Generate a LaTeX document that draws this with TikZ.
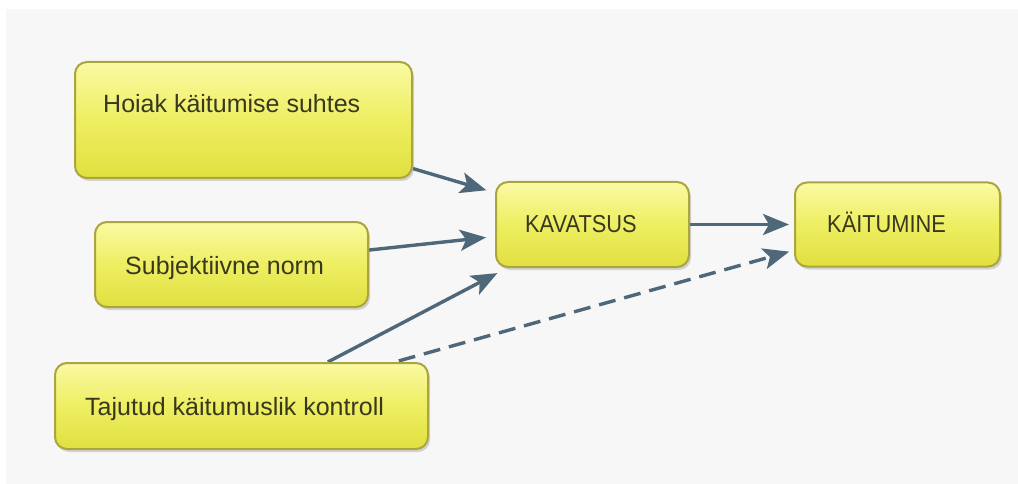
\documentclass[tikz,border=0pt]{standalone}
\usepackage{fontspec}
\setmainfont{Liberation Sans}
\newfontfamily\capsfont[FakeStretch=0.89]{Liberation Sans}
\usetikzlibrary{arrows.meta,shadows,backgrounds}
\definecolor{bgc}{HTML}{F7F7F7}
\definecolor{boxtop}{HTML}{FAFAA4}
\definecolor{boxmid}{HTML}{EEEE62}
\definecolor{boxbot}{HTML}{E0E040}
\definecolor{boxline}{HTML}{ABA540}
\definecolor{arrc}{HTML}{4E6779}
\definecolor{txtc}{HTML}{38381E}
\tikzset{
  box/.style={draw=boxline, line width=2pt, rounded corners=12pt,
    top color=boxtop, bottom color=boxbot, middle color=boxmid,
    drop shadow={shadow xshift=2pt, shadow yshift=-3pt, opacity=0.25, fill=black!60},
    inner sep=0pt},
  txt/.style={anchor=base west, inner sep=0pt, text=txtc, font=\fontsize{25}{28}\selectfont},
  captxt/.style={anchor=base west, inner sep=0pt, text=txtc, font=\capsfont\fontsize{24.5}{28}\selectfont},
  arr/.style={draw=arrc, line width=3.4pt, -{Stealth[length=26pt, width=21pt, inset=6pt]}},
  dasharr/.style={arr, dash pattern=on 17pt off 9pt}
}
\begin{document}
\begin{tikzpicture}[x=1pt, y=-1pt]
\useasboundingbox (0,0) rectangle (1018,484);

\node[box, minimum width=337pt, minimum height=116pt] (hoiak) at (243.5,120) {};
\node[box, minimum width=273pt, minimum height=85pt] (subj) at (231.5,264.5) {};
\node[box, minimum width=373pt, minimum height=86pt] (taj) at (241.5,406) {};
\node[box, minimum width=193pt, minimum height=85pt] (kav) at (592.5,224.5) {};
\node[box, minimum width=205pt, minimum height=84pt] (kait) at (897.5,224.5) {};

\node[txt] (hoiakt) at (103,113) {Hoiak käitumise suhtes};
\node[txt] (subjt) at (125,274) {Subjektiivne norm};
\node[txt] (tajt) at (85,415) {Tajutud käitumuslik kontroll};
\node[captxt] (kavt) at (525,233) {KAVATSUS};
\node[captxt] (kaitt) at (827,232) {KÄITUMINE};

\begin{scope}[on background layer]
\fill[white] (0,0) rectangle (1018,484);
\fill[bgc] (6,9) rectangle (1018,484);
\draw[arr, shorten >=9pt] (hoiak.-16.7) -- (kav.162);
\draw[arr, shorten >=9pt] (subj.6.5) -- (kav.187);
\draw[arr, shorten >=11pt] (taj.27) -- (kav.207);
\draw[arr, shorten >=5pt] (kav.east) -- (kait.west);
\draw[dasharr, shorten <=4pt, shorten >=5pt] (taj.16.6) -- (kait.194.5);
\end{scope}
\end{tikzpicture}
\end{document}
